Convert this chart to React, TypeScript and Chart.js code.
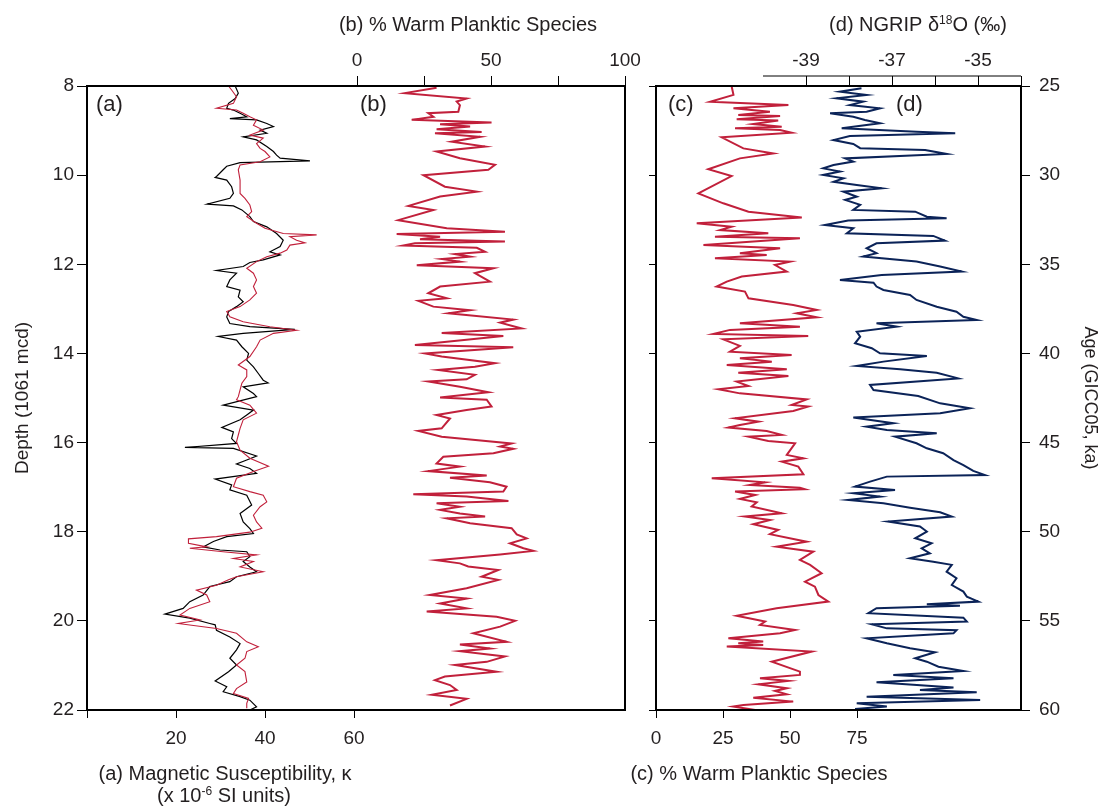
import React, { useEffect, useRef } from "react";
import { Chart, registerables } from "chart.js";
Chart.register(...registerables);

const FONT = "'Liberation Sans', Arial, Helvetica, sans-serif";
const INK = "#231f20";
const RED = "#c1203b";
const NAVY = "#0b2358";

// (a) magnetic susceptibility, black record
const aBlackDepth = [8.00,8.16,8.28,8.39,8.50,8.54,8.61,8.69,8.73,8.76,8.84,8.91,8.99,9.06,9.14,9.21,9.36,9.47,9.55,9.62,9.68,9.72,9.80,9.88,10.03,10.05,10.11,10.26,10.41,10.52,10.65,10.69,10.78,10.93,11.04,11.16,11.31,11.46,11.60,11.72,11.79,11.90,11.96,12.05,12.14,12.20,12.35,12.50,12.58,12.73,12.84,12.95,13.06,13.18,13.33,13.40,13.46,13.55,13.62,13.70,13.85,14.00,14.15,14.30,14.45,14.60,14.66,14.75,14.90,14.97,15.16,15.27,15.38,15.49,15.66,15.76,15.91,16.02,16.11,16.13,16.30,16.39,16.48,16.58,16.69,16.82,16.95,17.06,17.18,17.40,17.59,17.78,17.93,18.04,18.11,18.22,18.34,18.41,18.45,18.56,18.67,18.79,18.90,19.01,19.12,19.23,19.42,19.57,19.72,19.85,19.94,20.06,20.09,20.21,20.36,20.51,20.65,20.84,20.99,21.14,21.35,21.48,21.59,21.70,21.78,21.93,22.00];
const aBlackK = [33.3,34.0,33.3,31.8,31.4,32.9,34.4,35.9,32.1,38.1,40.4,41.9,38.9,40.4,35.1,38.1,40.4,41.9,42.6,43.4,50.1,34.4,31.4,30.6,29.1,28.8,31.4,32.5,32.9,32.1,27.0,32.9,34.8,36.6,37.4,40.4,42.6,44.1,43.4,41.1,43.4,39.6,36.6,35.1,29.1,33.6,32.1,31.4,34.4,34.0,35.1,33.6,31.8,31.4,32.1,36.6,46.7,35.1,29.5,33.6,34.8,36.3,35.9,37.4,38.5,39.6,40.7,35.1,37.4,38.1,30.6,37.4,35.9,34.4,30.3,32.9,32.5,33.6,22.0,32.9,38.1,35.9,33.6,36.6,38.1,28.8,32.5,32.1,35.9,37.0,34.4,35.1,36.6,37.4,31.4,28.4,26.1,29.9,35.9,36.6,35.1,36.6,38.1,33.6,32.1,27.6,26.1,23.1,21.6,17.5,23.1,27.6,28.8,29.1,32.1,34.4,33.6,32.1,33.6,31.8,28.8,31.4,30.6,34.4,36.6,38.1,36.6];

// (a) magnetic susceptibility, red record
const aRedDepth = [8.00,8.09,8.24,8.39,8.50,8.54,8.61,8.69,8.76,8.88,8.99,9.10,9.17,9.29,9.40,9.47,9.59,9.70,9.77,9.88,10.11,10.41,10.52,10.67,10.82,10.93,11.08,11.19,11.31,11.34,11.38,11.46,11.52,11.57,11.68,11.75,11.83,11.94,12.09,12.20,12.35,12.50,12.65,12.80,12.95,13.06,13.18,13.29,13.40,13.48,13.55,13.70,13.85,14.07,14.26,14.37,14.52,14.67,14.82,14.97,15.04,15.16,15.34,15.49,15.68,15.83,15.98,16.17,16.35,16.53,16.65,16.80,16.99,17.10,17.18,17.33,17.44,17.63,17.78,17.92,18.01,18.11,18.16,18.26,18.34,18.37,18.45,18.52,18.60,18.67,18.79,18.90,19.01,19.08,19.20,19.31,19.42,19.57,19.72,19.87,19.98,20.06,20.17,20.28,20.47,20.58,20.69,20.84,20.99,21.14,21.37,21.52,21.63,21.74,21.85,21.96];
const aRedK = [31.8,32.5,33.6,32.9,29.1,33.6,35.1,36.6,38.1,37.4,39.6,36.6,39.6,38.1,38.9,40.0,41.1,38.9,34.4,34.0,34.4,34.4,35.5,36.6,37.0,35.9,38.1,40.0,44.1,51.6,45.6,47.1,49.0,45.6,44.9,43.4,40.4,38.1,35.9,37.4,38.1,37.4,38.1,36.6,34.4,31.4,32.1,35.1,41.1,47.1,41.9,38.9,38.1,36.6,34.0,35.9,35.9,34.8,34.4,34.0,33.6,36.6,38.1,35.1,34.4,34.0,33.6,34.4,36.6,40.8,37.4,33.6,32.9,36.6,39.6,40.4,38.9,37.4,38.1,39.3,36.6,29.1,22.8,22.8,26.9,23.1,30.6,38.1,32.9,37.4,34.4,39.6,33.6,31.8,29.1,24.6,26.9,27.6,23.1,20.9,25.4,20.5,29.1,33.6,35.9,38.5,35.9,35.5,33.6,35.5,35.9,33.6,32.9,36.3,35.9,35.9];

// (b) % warm planktic species vs depth
const bDepth = [8.04,8.16,8.28,8.35,8.43,8.58,8.61,8.69,8.76,8.82,8.86,8.91,8.97,9.03,9.06,9.14,9.25,9.36,9.47,9.62,9.77,9.88,10.00,10.26,10.37,10.48,10.69,10.78,11.01,11.19,11.27,11.32,11.38,11.44,11.49,11.53,11.58,11.63,11.72,11.77,11.83,11.88,11.94,12.02,12.09,12.20,12.39,12.50,12.65,12.76,12.82,12.95,13.03,13.10,13.24,13.31,13.44,13.54,13.61,13.81,13.86,14.00,14.07,14.22,14.30,14.37,14.48,14.58,14.63,14.75,14.87,14.99,15.04,15.19,15.27,15.38,15.46,15.68,15.74,15.87,16.02,16.09,16.14,16.24,16.32,16.47,16.54,16.64,16.74,16.79,16.89,16.99,17.10,17.16,17.21,17.31,17.36,17.44,17.51,17.59,17.66,17.70,17.81,17.92,18.06,18.15,18.26,18.37,18.43,18.51,18.64,18.71,18.78,18.86,19.01,19.08,19.27,19.42,19.50,19.61,19.72,19.79,19.91,20.00,20.13,20.28,20.47,20.53,20.62,20.68,20.80,20.92,20.99,21.14,21.25,21.33,21.44,21.55,21.66,21.75,21.90];
const bPct = [29.7,17.9,40.9,37.2,38.4,37.8,26.6,28.5,20.4,50.2,31.0,42.2,29.7,46.5,29.1,45.9,35.3,47.8,29.7,38.4,51.5,49.0,24.8,32.8,44.7,31.0,19.2,28.5,15.4,33.5,55.2,14.8,31.0,23.5,55.2,21.6,17.3,44.7,47.8,36.6,42.2,31.6,38.4,22.3,50.9,44.0,49.6,31.0,26.6,33.5,22.9,28.5,42.2,34.1,58.3,53.4,61.4,31.6,54.6,21.6,58.3,25.4,31.6,51.5,44.0,30.3,44.0,40.9,26.6,38.4,49.0,31.0,48.4,50.2,40.9,29.7,34.7,31.6,22.9,31.6,57.7,53.4,58.3,50.9,32.2,29.7,38.4,26.6,48.4,34.7,49.6,55.8,54.6,21.0,40.9,56.5,29.7,38.4,31.0,38.4,47.8,33.5,42.2,57.7,59.6,63.3,57.1,62.1,65.8,53.4,29.7,38.4,41.5,52.7,46.5,52.7,40.9,27.2,40.9,31.0,40.9,26.0,52.1,59.0,53.4,43.4,55.8,38.4,49.6,38.4,55.2,48.4,36.6,52.1,32.8,29.1,34.7,37.2,27.9,40.9,34.7];

// (c) % warm planktic species vs age
const cAge = [25.00,25.50,25.88,26.07,26.25,26.44,26.63,26.68,26.87,26.94,27.13,27.28,27.37,27.47,27.62,27.88,28.50,28.78,29.06,29.67,30.05,31.02,31.58,32.05,32.37,32.70,32.89,33.08,33.26,33.45,33.54,33.92,34.10,34.38,34.48,34.66,34.85,35.04,35.41,35.69,35.97,36.25,36.53,36.91,37.28,37.56,37.75,37.97,38.31,38.50,38.68,38.91,39.02,39.21,39.58,39.90,40.09,40.27,40.46,40.65,40.89,41.08,41.26,41.58,41.83,42.01,42.24,42.58,42.89,42.98,43.23,43.64,43.83,44.01,44.16,44.35,44.57,44.67,44.91,45.04,45.69,45.88,46.07,46.35,46.78,47.00,47.23,47.38,47.53,47.62,47.75,47.94,48.16,48.35,48.59,48.97,49.15,49.34,49.58,49.90,50.14,50.56,50.84,51.12,51.58,51.86,52.33,52.80,53.08,53.55,53.92,54.29,54.71,55.04,55.23,55.51,55.70,55.98,56.16,56.26,56.35,56.44,56.72,57.29,57.85,58.03,58.22,58.37,58.56,58.78,58.93,59.12,59.31,59.53,59.72,59.81,60.00];
const cPct = [28.2,28.9,20.2,49.4,28.9,42.5,30.7,46.3,30.1,45.6,36.3,46.9,29.5,46.3,50.6,24.5,32.6,43.8,31.3,19.5,28.2,15.8,25.1,34.5,54.4,15.2,28.2,23.9,41.9,22.0,53.7,17.7,46.3,31.3,41.3,22.0,50.0,44.4,48.8,32.0,26.4,22.6,33.2,34.5,51.2,60.0,52.5,60.0,31.3,53.7,27.6,21.4,56.8,25.1,31.3,27.6,50.6,31.3,43.2,26.4,48.8,30.7,49.4,30.1,34.5,23.3,31.3,56.2,50.6,56.8,51.2,29.5,38.2,31.3,27.0,41.3,46.9,34.5,41.9,51.9,48.8,55.0,46.9,53.1,55.0,20.8,40.7,35.1,53.7,55.6,29.5,37.0,31.3,37.6,35.7,46.9,33.2,42.5,36.3,45.6,42.5,56.2,45.0,58.7,53.7,57.5,61.8,55.6,59.3,60.6,64.3,45.0,30.1,40.7,38.8,51.9,46.3,27.0,40.0,30.7,40.0,26.4,58.1,43.2,53.7,53.7,38.8,49.4,38.2,48.8,44.4,48.8,36.3,51.2,32.6,28.8,37.0];

// (d) NGRIP d18O vs age
const dAge = [25.13,25.32,25.50,25.69,25.88,26.07,26.25,26.44,26.53,26.72,26.91,27.09,27.37,27.56,27.65,27.80,28.03,28.25,28.49,28.59,28.81,29.06,29.24,29.43,29.62,29.80,29.99,30.18,30.37,30.55,30.74,30.93,31.21,31.39,31.67,31.95,32.05,32.33,32.42,32.55,32.80,32.98,33.26,33.41,33.67,33.82,34.10,34.38,34.57,34.85,35.13,35.41,35.60,35.88,36.03,36.25,36.44,36.72,37.00,37.38,37.66,37.94,38.12,38.31,38.50,38.78,39.06,39.43,39.71,39.99,40.14,40.46,40.70,40.89,41.08,41.40,41.77,42.05,42.39,42.80,43.08,43.36,43.60,43.92,44.11,44.29,44.48,44.67,45.04,45.32,45.60,45.98,46.26,46.59,46.82,46.91,47.19,47.47,47.66,47.84,48.03,48.22,48.41,48.65,48.91,49.15,49.43,49.71,49.99,50.37,50.65,50.93,51.21,51.49,51.68,51.86,52.24,52.61,52.99,53.36,53.64,53.92,54.07,54.15,54.29,54.57,54.82,55.04,55.19,55.42,55.53,55.70,55.98,56.26,56.54,56.76,57.10,57.29,57.57,57.81,58.03,58.22,58.45,58.74,58.88,59.01,59.25,59.44,59.62,59.81,59.94];
const dIso = [-37.71,-38.21,-37.59,-38.29,-37.67,-37.98,-37.28,-37.59,-38.44,-37.90,-37.63,-37.28,-38.17,-36.43,-35.53,-37.98,-38.36,-37.90,-37.74,-36.23,-35.73,-38.09,-37.90,-38.36,-38.60,-38.21,-38.60,-38.13,-38.36,-37.82,-37.24,-38.13,-37.82,-38.09,-37.74,-37.90,-36.46,-36.19,-35.73,-38.02,-38.56,-37.90,-38.05,-36.04,-35.77,-37.36,-37.59,-37.36,-37.67,-36.43,-35.88,-35.38,-37.24,-38.21,-37.43,-37.36,-37.20,-36.58,-36.43,-35.96,-35.50,-35.34,-35.03,-37.36,-36.89,-37.82,-37.74,-37.86,-37.47,-37.28,-36.19,-37.20,-37.82,-36.81,-35.96,-35.46,-37.51,-37.43,-36.39,-35.88,-35.19,-35.88,-37.90,-36.97,-37.59,-37.12,-35.96,-36.93,-36.43,-36.19,-35.81,-35.57,-35.34,-35.11,-34.84,-37.12,-37.51,-37.86,-36.93,-37.90,-37.28,-38.02,-37.20,-36.58,-35.88,-35.61,-37.09,-36.35,-36.19,-36.46,-36.08,-36.31,-36.12,-36.58,-36.04,-35.61,-35.73,-35.50,-35.61,-35.34,-35.26,-34.99,-36.19,-35.42,-37.36,-37.55,-35.34,-35.26,-37.47,-37.12,-35.50,-35.57,-37.59,-37.12,-36.58,-36.00,-36.46,-36.19,-35.92,-35.34,-36.97,-35.57,-37.36,-35.57,-36.35,-35.03,-37.59,-34.95,-37.82,-37.12,-37.86];

// axis ticks
const depthTicks = [8, 10, 12, 14, 16, 18, 20, 22];
const magTicks = [0, 20, 40, 60];
const magLabels = ["", "20", "40", "60"];
const bTicks = [0, 25, 50, 75, 100];
const bLabels = ["0", "", "50", "", "100"];
const ageTicks = [25, 30, 35, 40, 45, 50, 55, 60];
const cTicks = [0, 25, 50, 75];
const dTicks = [-39, -38, -37, -36, -35, -34];
const dLabels = ["-39", "", "-37", "", "-35", ""];

const W = 1102;
const H = 806;

function pts(ys: number[], xs: number[]) {
  const n = Math.min(ys.length, xs.length);
  const out: { x: number; y: number }[] = [];
  for (let i = 0; i < n; i++) out.push({ x: xs[i], y: ys[i] });
  return out;
}

function fixed(vals: number[]) {
  return (s: any) => {
    s.ticks = vals.map((v) => ({ value: v }));
  };
}

function labelFrom(vals: number[], labels: string[]) {
  return (v: any) => {
    const i = vals.indexOf(Number(v));
    return i >= 0 ? labels[i] : "";
  };
}

function tickGrid(len: number) {
  return {
    display: true,
    drawOnChartArea: false,
    drawTicks: true,
    tickLength: len,
    tickColor: "#000",
    tickWidth: 1,
    color: "#000",
    lineWidth: 1,
  };
}

const tickFont = { family: FONT, size: 19 };

function drawRich(ctx: CanvasRenderingContext2D, parts: Array<[string, boolean]>, cx: number, baseY: number, size: number) {
  const big = `${size}px ${FONT}`;
  const small = `${Math.round(size * 0.6)}px ${FONT}`;
  let total = 0;
  const widths = parts.map(([t, s]) => {
    ctx.font = s ? small : big;
    const w = ctx.measureText(t).width;
    total += w;
    return w;
  });
  let x = cx - total / 2;
  ctx.textAlign = "left";
  ctx.textBaseline = "alphabetic";
  parts.forEach(([t, s], i) => {
    ctx.font = s ? small : big;
    ctx.fillText(t, x, s ? baseY - size * 0.36 : baseY);
    x += widths[i];
  });
}

function boxPlugin(extra: (ctx: CanvasRenderingContext2D, chart: any) => void) {
  return {
    id: "deco",
    afterDraw(chart: any) {
      const ctx: CanvasRenderingContext2D = chart.ctx;
      const a = chart.chartArea;
      ctx.save();
      ctx.strokeStyle = "#000";
      ctx.lineWidth = 2;
      ctx.strokeRect(a.left, a.top, a.right - a.left, a.bottom - a.top);
      ctx.fillStyle = INK;
      extra(ctx, chart);
      ctx.restore();
    },
  };
}

function line(data: any, color: string, width: number, xAxisID: string, yAxisID: string) {
  return {
    data,
    borderColor: color,
    backgroundColor: color,
    borderWidth: width,
    pointRadius: 0,
    showLine: true,
    fill: false,
    tension: 0,
    xAxisID,
    yAxisID,
  };
}

function leftConfig(): any {
  return {
    type: "scatter",
    data: {
      datasets: [
        line(pts(aRedDepth, aRedK), RED, 1.1, "kx", "depth"),
        line(pts(aBlackDepth, aBlackK), "#000", 1.2, "kx", "depth"),
        line(pts(bDepth, bPct), RED, 2, "bx", "depth"),
      ],
    },
    options: {
      responsive: false,
      animation: false,
      events: [],
      layout: { padding: { left: 0, right: W - 625, top: 0, bottom: 0 } },
      plugins: { legend: { display: false }, tooltip: { enabled: false } },
      scales: {
        depth: {
          type: "linear",
          position: "left",
          reverse: true,
          min: 8,
          max: 22,
          afterFit: (s: any) => { s.width = 87; },
          afterBuildTicks: fixed(depthTicks),
          ticks: { font: tickFont, color: INK, padding: 3 },
          grid: tickGrid(10),
          border: { display: false },
        },
        kx: {
          type: "linear",
          position: "bottom",
          min: 0,
          max: (625 - 87) / 4.45,
          afterFit: (s: any) => { s.height = 96; },
          afterBuildTicks: fixed(magTicks),
          ticks: { font: tickFont, color: INK, padding: 9, callback: labelFrom(magTicks, magLabels), maxRotation: 0 },
          grid: tickGrid(8),
          border: { display: false },
        },
        bx: {
          type: "linear",
          position: "top",
          min: -(357 - 87) / 2.68,
          max: (625 - 357) / 2.68,
          afterFit: (s: any) => { s.height = 86; },
          afterBuildTicks: fixed(bTicks),
          ticks: { font: tickFont, color: INK, padding: 4, callback: labelFrom(bTicks, bLabels), maxRotation: 0 },
          grid: tickGrid(10),
          border: { display: false },
        },
      },
    },
    plugins: [
      boxPlugin((ctx) => {
        ctx.textBaseline = "alphabetic";
        ctx.textAlign = "center";
        ctx.font = `20px ${FONT}`;
        ctx.fillText("(b) % Warm Planktic Species", 468, 31);
        ctx.fillText("(a) Magnetic Susceptibility, \u03BA", 225, 780);
        drawRich(ctx, [["(x 10", false], ["-6", true], [" SI units)", false]], 224, 802, 20);
        ctx.font = `22px ${FONT}`;
        ctx.textAlign = "left";
        ctx.fillText("(a)", 96, 111);
        ctx.fillText("(b)", 360, 111);
        ctx.save();
        ctx.translate(23, 398);
        ctx.rotate(-Math.PI / 2);
        ctx.textAlign = "center";
        ctx.textBaseline = "middle";
        ctx.font = `19px ${FONT}`;
        ctx.fillText("Depth (1061 mcd)", 0, 0);
        ctx.restore();
      }),
    ],
  };
}

function rightConfig(): any {
  const dMin = -39 - (806 - 656) / 43;
  const dMax = -39 + (1021 - 806) / 43;
  return {
    type: "scatter",
    data: {
      datasets: [
        line(pts(cAge, cPct), RED, 2, "cx", "ageR"),
        line(pts(dAge, dIso), NAVY, 2, "dx", "ageR"),
      ],
    },
    options: {
      responsive: false,
      animation: false,
      events: [],
      layout: { padding: { left: 640, right: 0, top: 0, bottom: 0 } },
      plugins: { legend: { display: false }, tooltip: { enabled: false } },
      scales: {
        ageL: {
          type: "linear",
          position: "left",
          reverse: true,
          min: 25,
          max: 60,
          afterFit: (s: any) => { s.width = 16; },
          afterBuildTicks: fixed(ageTicks),
          ticks: { display: true, callback: () => "", font: tickFont, padding: 0 },
          grid: tickGrid(7),
          border: { display: false },
        },
        ageR: {
          type: "linear",
          position: "right",
          reverse: true,
          min: 25,
          max: 60,
          afterFit: (s: any) => { s.width = W - 1021; },
          afterBuildTicks: fixed(ageTicks),
          ticks: { font: tickFont, color: INK, padding: 9 },
          grid: tickGrid(9),
          border: { display: false },
        },
        cx: {
          type: "linear",
          position: "bottom",
          min: 0,
          max: (1021 - 656) / 2.68,
          afterFit: (s: any) => { s.height = 96; },
          afterBuildTicks: fixed(cTicks),
          ticks: { font: tickFont, color: INK, padding: 9, maxRotation: 0 },
          grid: tickGrid(8),
          border: { display: false },
        },
        dx: {
          type: "linear",
          position: "top",
          min: dMin,
          max: dMax,
          afterFit: (s: any) => { s.height = 86; },
          afterBuildTicks: fixed(dTicks),
          ticks: { font: tickFont, color: INK, padding: 4, callback: labelFrom(dTicks, dLabels), maxRotation: 0 },
          grid: tickGrid(10),
          border: { display: false },
        },
      },
    },
    plugins: [
      boxPlugin((ctx, chart) => {
        const a = chart.chartArea;
        const dx = chart.scales.dx;
        ctx.strokeStyle = "#000";
        ctx.lineWidth = 1;
        ctx.beginPath();
        ctx.moveTo(dx.getPixelForValue(-40), a.top - 10);
        ctx.lineTo(a.right, a.top - 10);
        ctx.stroke();
        drawRich(ctx, [["(d) NGRIP \u03B4", false], ["18", true], ["O (\u2030)", false]], 918, 31, 20);
        ctx.textAlign = "center";
        ctx.textBaseline = "alphabetic";
        ctx.font = `20px ${FONT}`;
        ctx.fillText("(c) % Warm Planktic Species", 759, 780);
        ctx.font = `22px ${FONT}`;
        ctx.textAlign = "left";
        ctx.fillText("(c)", 668, 111);
        ctx.fillText("(d)", 896, 111);
        ctx.save();
        ctx.translate(1090, 398);
        ctx.rotate(Math.PI / 2);
        ctx.textAlign = "center";
        ctx.textBaseline = "middle";
        ctx.font = `18px ${FONT}`;
        ctx.fillText("Age (GICC05, ka)", 0, 0);
        ctx.restore();
      }),
    ],
  };
}

export default function App() {
  const leftRef = useRef<HTMLCanvasElement>(null);
  const rightRef = useRef<HTMLCanvasElement>(null);

  useEffect(() => {
    const c1 = new Chart(leftRef.current as HTMLCanvasElement, leftConfig());
    const c2 = new Chart(rightRef.current as HTMLCanvasElement, rightConfig());
    return () => {
      c1.destroy();
      c2.destroy();
    };
  }, []);

  const cs: React.CSSProperties = { position: "absolute", left: 0, top: 0, width: W, height: H };
  return (
    <div style={{ position: "absolute", left: 0, top: 0, width: W, height: H, background: "#fff" }}>
      <canvas ref={leftRef} width={W} height={H} style={cs} />
      <canvas ref={rightRef} width={W} height={H} style={cs} />
    </div>
  );
}
